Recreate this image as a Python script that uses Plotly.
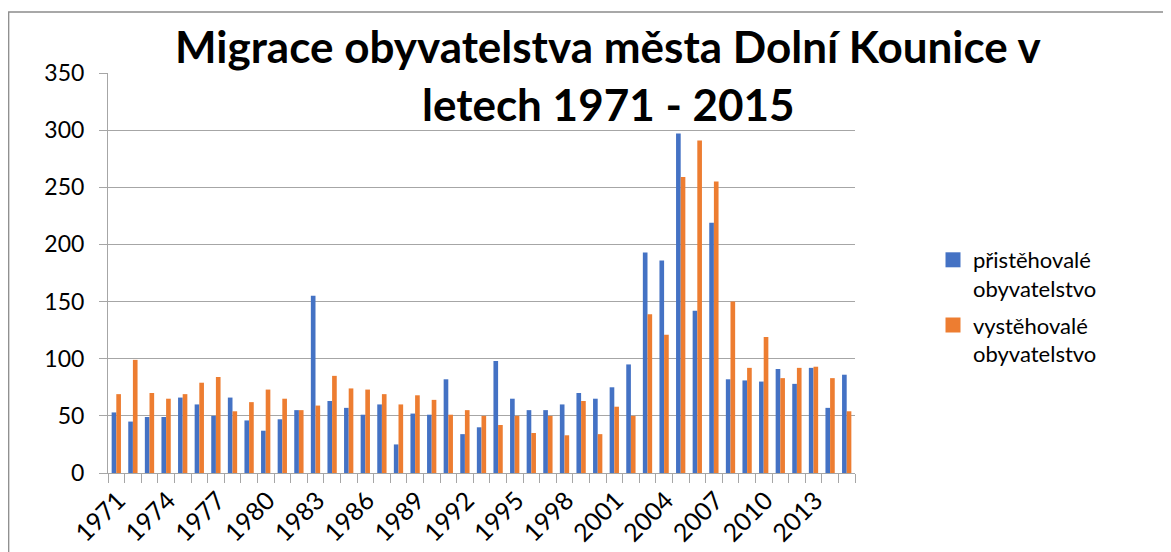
import plotly.graph_objects as go

# Migrace obyvatelstva Dolní Kounice 1971-2015
roky = list(range(1971, 2016))

pristehovale = [53, 45, 49, 49, 66, 60, 50, 66, 46, 37,
                47, 55, 155, 63, 57, 51, 60, 25, 52, 51,
                82, 34, 40, 98, 65, 55, 55, 60, 70, 65,
                75, 95, 193, 186, 297, 142, 219, 82, 81, 80,
                91, 78, 92, 57, 86]

vystehovale = [69, 99, 70, 65, 69, 79, 84, 54, 62, 73,
               65, 55, 59, 85, 74, 73, 69, 60, 68, 64,
               51, 55, 50, 42, 50, 35, 50, 33, 63, 34,
               58, 50, 139, 121, 259, 291, 255, 150, 92, 119,
               83, 92, 93, 83, 54]

nazvy = ["přistěhovalé<br>obyvatelstvo", "vystěhovalé<br>obyvatelstvo"]
barvy = ["#4472C4", "#ED7D31"]
titulek = ["Migrace obyvatelstva města Dolní Kounice v", "letech 1971 - 2015"]

FONT = "Lato, Calibri, sans-serif"
GRID = "#a6a6a6"

# stránka má okraj 8 px, proto jsou okraje posunuté
OFF = 8
PL, PT, PW, PH = 108, 73, 747, 400

fig = go.Figure()
for i, (nazev, hodnoty, barva) in enumerate(zip(nazvy, [pristehovale, vystehovale], barvy)):
    fig.add_trace(go.Bar(x=roky, y=hodnoty, name=nazev, showlegend=False,
                         marker=dict(color=barva, line=dict(width=0))))
    # čtvercová značka do legendy
    fig.add_trace(go.Scatter(x=[None], y=[None], mode="markers", name=nazev,
                             legendgroup=f"g{i}",
                             marker=dict(symbol="square", size=15, color=barva)))

fig.update_layout(
    width=1171, height=552,
    margin=dict(l=PL - OFF, r=1171 - (PL - OFF) - PW, t=PT - OFF,
                b=552 - (PT - OFF) - PH, autoexpand=False),
    barmode="group", bargap=0.44, bargroupgap=0,
    paper_bgcolor="white", plot_bgcolor="white",
    font=dict(family=FONT, size=23, color="black"),
    legend=dict(x=(933 - PL) / PW, y=0.585, xanchor="left", yanchor="top",
                font=dict(size=22), valign="top", tracegroupgap=5,
                itemwidth=30),
    showlegend=True,
)

# titulek ve dvou řádcích
for text, ypix in zip(titulek, [46, 104]):
    fig.add_annotation(text=f"<b>{text}</b>", xref="paper", yref="paper",
                       x=(608 - PL) / PW, y=(PT + PH - ypix) / PH,
                       xanchor="center", yanchor="middle", showarrow=False,
                       font=dict(size=44, family=FONT, color="black"))

fig.update_xaxes(
    range=[1970.5, 2015.5], automargin=False,
    tickmode="array", tickvals=roky[::3], ticktext=[str(r) for r in roky[::3]],
    tickangle=-45, ticks="", showgrid=False, tickfont=dict(size=25),
    ticklabelstandoff=2, ticklabelshift=2,
    showline=True, linecolor=GRID, linewidth=1,
    minor=dict(ticks="outside", tick0=1970.5, dtick=1, ticklen=9,
               tickcolor=GRID, tickwidth=1, showgrid=False),
)
fig.update_yaxes(
    range=[0, 350], dtick=50, automargin=False,
    showgrid=True, gridcolor=GRID, gridwidth=1,
    showline=True, linecolor=GRID, linewidth=1,
    ticks="outside", ticklen=8, tickcolor=GRID,
    ticklabelstandoff=10, zeroline=False,
)

# rámeček grafu
fig.add_shape(type="rect", xref="paper", yref="paper",
              x0=(8.7 - PL) / PW, x1=1.6, y0=-0.5, y1=(PT + PH - 12) / PH,
              line=dict(color="#8c8c8c", width=1.3), layer="below")

fig.write_html("out.html")
